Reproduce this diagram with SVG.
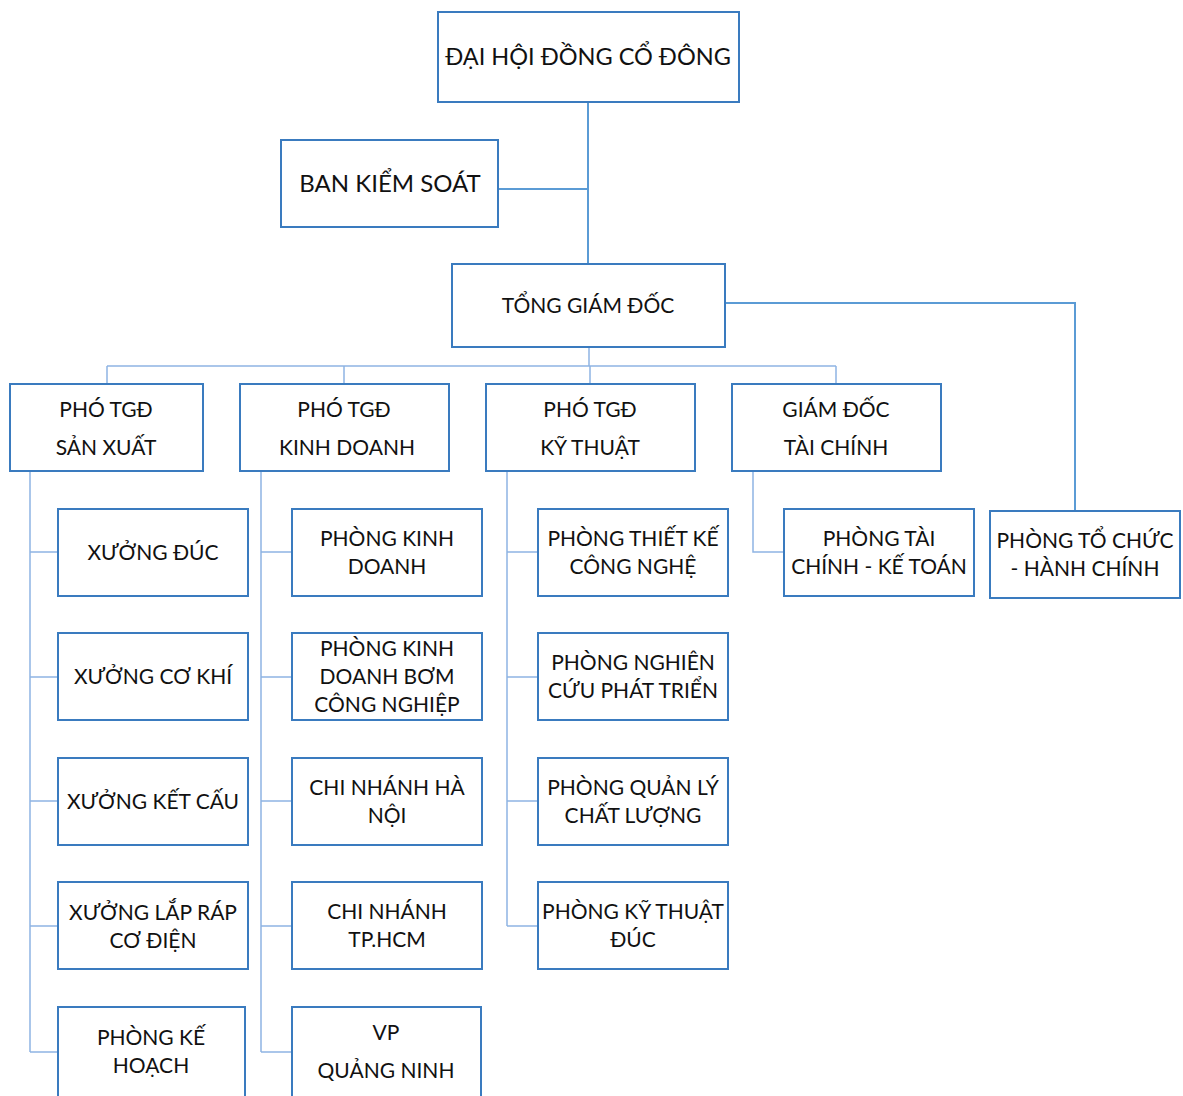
<svg xmlns="http://www.w3.org/2000/svg" width="1183" height="1096" viewBox="0 0 1183 1096">
<style>
.box{fill:#fff;stroke:#3A7BBF;stroke-width:2}
text{font-family:Lato,"Open Sans","Liberation Sans",sans-serif;font-size:21px;fill:#111;text-anchor:middle}
.big{font-size:24px}
.top{font-size:23.5px}
.main{fill:none;stroke:#5B9BD5;stroke-width:2}
.sub{fill:none;stroke:#8EB4E3;stroke-width:1.5}
</style>
<rect width="1183" height="1096" fill="#fff"/>
<g id="connectors">
<path class="main" d="M588 102V264M498 189H588M725 303H1075V511"/>
<path class="sub" d="M589 347V366M107 366H836M107 366V384M344 366V384M590 366V384M836 366V384"/>
<path class="sub" d="M30 471V1052M30 552H58M30 677H58M30 801H58M30 926H58M30 1052H58"/>
<path class="sub" d="M261 471V1052M261 552H292M261 677H292M261 801H292M261 926H292M261 1052H292"/>
<path class="sub" d="M507 471V926M507 552H538M507 677H538M507 801H538M507 926H538"/>
<path class="sub" d="M753 471V552H784"/>
</g>
<g id="dhdcd"><rect class="box" x="438" y="12" width="301" height="90"/><text class="top" x="588" y="65">ĐẠI HỘI ĐỒNG CỔ ĐÔNG</text></g>
<g id="bks"><rect class="box" x="281" y="140" width="217" height="87"/><text class="big" x="390" y="192">BAN KIỂM SOÁT</text></g>
<g id="tgd"><rect class="box" x="452" y="264" width="273" height="83"/><text x="588" y="313">TỔNG GIÁM ĐỐC</text></g>
<g id="ptgd-sx"><rect class="box" x="10" y="384" width="193" height="87"/><text x="106" y="417">PHÓ TGĐ</text><text x="106" y="455">SẢN XUẤT</text></g>
<g id="ptgd-kd"><rect class="box" x="240" y="384" width="209" height="87"/><text x="344" y="417">PHÓ TGĐ</text><text x="347" y="455">KINH DOANH</text></g>
<g id="ptgd-kt"><rect class="box" x="486" y="384" width="209" height="87"/><text x="590" y="417">PHÓ TGĐ</text><text x="590" y="455">KỸ THUẬT</text></g>
<g id="gd-tc"><rect class="box" x="732" y="384" width="209" height="87"/><text x="836" y="417">GIÁM ĐỐC</text><text x="836" y="455">TÀI CHÍNH</text></g>
<g id="xuong-duc"><rect class="box" x="58" y="509" width="190" height="87"/><text x="153" y="560">XƯỞNG ĐÚC</text></g>
<g id="xuong-co-khi"><rect class="box" x="58" y="633" width="190" height="87"/><text x="153" y="684">XƯỞNG CƠ KHÍ</text></g>
<g id="xuong-ket-cau"><rect class="box" x="58" y="758" width="190" height="87"/><text x="153" y="809">XƯỞNG KẾT CẤU</text></g>
<g id="xuong-lap-rap"><rect class="box" x="58" y="882" width="190" height="87"/><text x="153" y="920">XƯỞNG LẮP RÁP</text><text x="153" y="948">CƠ ĐIỆN</text></g>
<g id="phong-ke-hoach"><rect class="box" x="58" y="1007" width="187" height="95"/><text x="151" y="1045">PHÒNG KẾ</text><text x="151" y="1073">HOẠCH</text></g>
<g id="phong-kd"><rect class="box" x="292" y="509" width="190" height="87"/><text x="387" y="546">PHÒNG KINH</text><text x="387" y="574">DOANH</text></g>
<g id="phong-kd-bom"><rect class="box" x="292" y="633" width="190" height="87"/><text x="387" y="656">PHÒNG KINH</text><text x="387" y="684">DOANH BƠM</text><text x="387" y="712">CÔNG NGHIỆP</text></g>
<g id="cn-hn"><rect class="box" x="292" y="758" width="190" height="87"/><text x="387" y="795">CHI NHÁNH HÀ</text><text x="387" y="823">NỘI</text></g>
<g id="cn-hcm"><rect class="box" x="292" y="882" width="190" height="87"/><text x="387" y="919">CHI NHÁNH</text><text x="387" y="947">TP.HCM</text></g>
<g id="vp-qn"><rect class="box" x="292" y="1007" width="189" height="95"/><text x="386" y="1040">VP</text><text x="386" y="1078">QUẢNG NINH</text></g>
<g id="phong-tkcn"><rect class="box" x="538" y="509" width="190" height="87"/><text x="633" y="546">PHÒNG THIẾT KẾ</text><text x="633" y="574">CÔNG NGHỆ</text></g>
<g id="phong-nckt"><rect class="box" x="538" y="633" width="190" height="87"/><text x="633" y="670">PHÒNG NGHIÊN</text><text x="633" y="698">CỨU PHÁT TRIỂN</text></g>
<g id="phong-qlcl"><rect class="box" x="538" y="758" width="190" height="87"/><text x="633" y="795">PHÒNG QUẢN LÝ</text><text x="633" y="823">CHẤT LƯỢNG</text></g>
<g id="phong-ktd"><rect class="box" x="538" y="882" width="190" height="87"/><text x="633" y="919">PHÒNG KỸ THUẬT</text><text x="633" y="947">ĐÚC</text></g>
<g id="phong-tckt"><rect class="box" x="784" y="509" width="190" height="87"/><text x="879" y="546">PHÒNG TÀI</text><text x="879" y="574">CHÍNH - KẾ TOÁN</text></g>
<g id="phong-tchc"><rect class="box" x="990" y="511" width="190" height="87"/><text x="1085" y="548">PHÒNG TỔ CHỨC</text><text x="1085" y="576">- HÀNH CHÍNH</text></g>
</svg>
